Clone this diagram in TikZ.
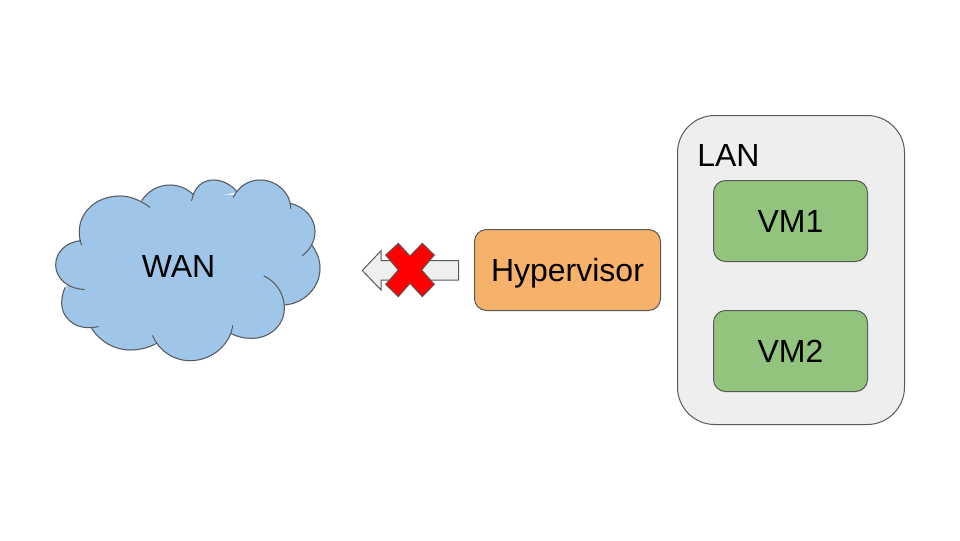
\documentclass[tikz,border=0pt]{standalone}
\usepackage{fontspec}
\setmainfont{Liberation Sans}
\definecolor{edgegray}{HTML}{595959}
\definecolor{cloudblue}{HTML}{9FC5E8}
\definecolor{hyperorange}{HTML}{F6B26B}
\definecolor{vmgreen}{HTML}{93C47D}
\definecolor{langray}{HTML}{EEEEEE}
\definecolor{arrowgray}{HTML}{EFEFEF}
\tikzset{
  px/.style={x=0.75pt,y=-0.75pt},
  outline/.style={draw=edgegray,line width=0.75pt},
  cloudfill/.style={fill=cloudblue,draw=cloudblue,line width=0.75pt},
  roundbox/.style={outline,rounded corners=9pt,inner sep=0pt,font=\fontsize{24}{28}\selectfont,text=black},
  label/.style={font=\fontsize{24}{28}\selectfont,text=black,inner sep=0pt},
}
\newcommand{\lobefill}[1]{\path[cloudfill] #1 -- cycle;}
\newcommand{\lobestroke}[1]{\draw[outline,line cap=round] #1;}
\newcommand{\alllobes}[1]{%
  #1{(122,212) .. controls (80,216) and (47,245) .. (47,285) .. controls (47,325) and (85,358) .. (133,358)}%
  #1{(330,112) .. controls (300,90) and (270,78) .. (240,78) .. controls (170,78) and (118,125) .. (118,185) .. controls (118,200) and (120,215) .. (125,225)}%
  #1{(75,353) .. controls (68,368) and (65,385) .. (65,400) .. controls (65,440) and (100,473) .. (145,473) .. controls (155,473) and (165,472) .. (175,470)}%
  #1{(155,475) .. controls (180,515) and (225,540) .. (270,540) .. controls (300,540) and (328,532) .. (350,520)}%
  #1{(338,497) .. controls (355,540) and (400,572) .. (450,572) .. controls (515,572) and (570,525) .. (578,467)}%
  #1{(572,490) .. controls (590,500) and (612,505) .. (635,505) .. controls (690,505) and (733,465) .. (733,415) .. controls (733,370) and (708,335) .. (672,318)}%
  #1{(733,405) .. controls (795,400) and (840,350) .. (840,295) .. controls (840,268) and (830,245) .. (815,225)}%
  #1{(787,257) .. controls (810,240) and (825,213) .. (825,185) .. controls (825,145) and (795,110) .. (750,100)}%
  #1{(752,115) .. controls (753,70) and (710,30) .. (660,30) .. controls (625,30) and (595,50) .. (580,82)}%
  #1{(590,65) .. controls (575,45) and (548,30) .. (520,30) .. controls (490,30) and (462,50) .. (455,92)}%
  #1{(462,75) .. controls (440,55) and (415,45) .. (390,45) .. controls (355,45) and (325,62) .. (305,92)}}
\begin{document}
\begin{tikzpicture}[px]
\useasboundingbox (0,0) rectangle (960,540);
\fill[white] (0,0) rectangle (960,540);
% cloud
\begin{scope}[shift={(40,170)},x=0.25pt,y=-0.25pt]
  \path[cloudfill] (125,212)--(307,95)--(458,75)--(585,75)--(750,103)--(812,225)--(733,402)--(575,487)--(346,515)--(160,470)--(80,352)--cycle;
  \alllobes\lobefill
  \path[cloudfill] (150,465)--(350,500)--(340,520)--(170,485)--cycle;
  \path[cloudfill] (570,95)--(610,95)--(605,55)--(590,68)--cycle;
  \alllobes\lobestroke
\end{scope}
\node[label] (wan) at (178.5,266) {WAN};
% arrow
\path[outline,fill=arrowgray] (362.3,270.5)--(381,250.7)--(381,260.5)--(458.7,260.5)--(458.7,280)--(381,280)--(381,290)--cycle;
% red cross
\begin{scope}[shift={(350,220)},x=0.25pt,y=-0.25pt]
  \path[outline,fill=red] (145,70)--(180,108)--(217,70)--(253,105)--(215,150)--(253,193)--(217,230)--(180,190)--(145,230)--(107,193)--(145,150)--(107,105)--cycle;
\end{scope}
% boxes
\node[roundbox,fill=hyperorange,minimum width=139.5pt,minimum height=60.75pt,text depth=0pt] (hyper) at (567.5,270) {Hypervisor};
\node[roundbox,fill=langray,rounded corners=28pt,minimum width=170.25pt,minimum height=231.75pt] (lan) at (791,270) {};
\node[label,anchor=base west] (lantext) at (697,166) {LAN};
\node[roundbox,fill=vmgreen,minimum width=115.5pt,minimum height=60.75pt] (vma) at (790.5,221) {VM1};
\node[roundbox,fill=vmgreen,minimum width=115.5pt,minimum height=60.75pt] (vmb) at (790.5,351) {VM2};
\end{tikzpicture}
\end{document}
